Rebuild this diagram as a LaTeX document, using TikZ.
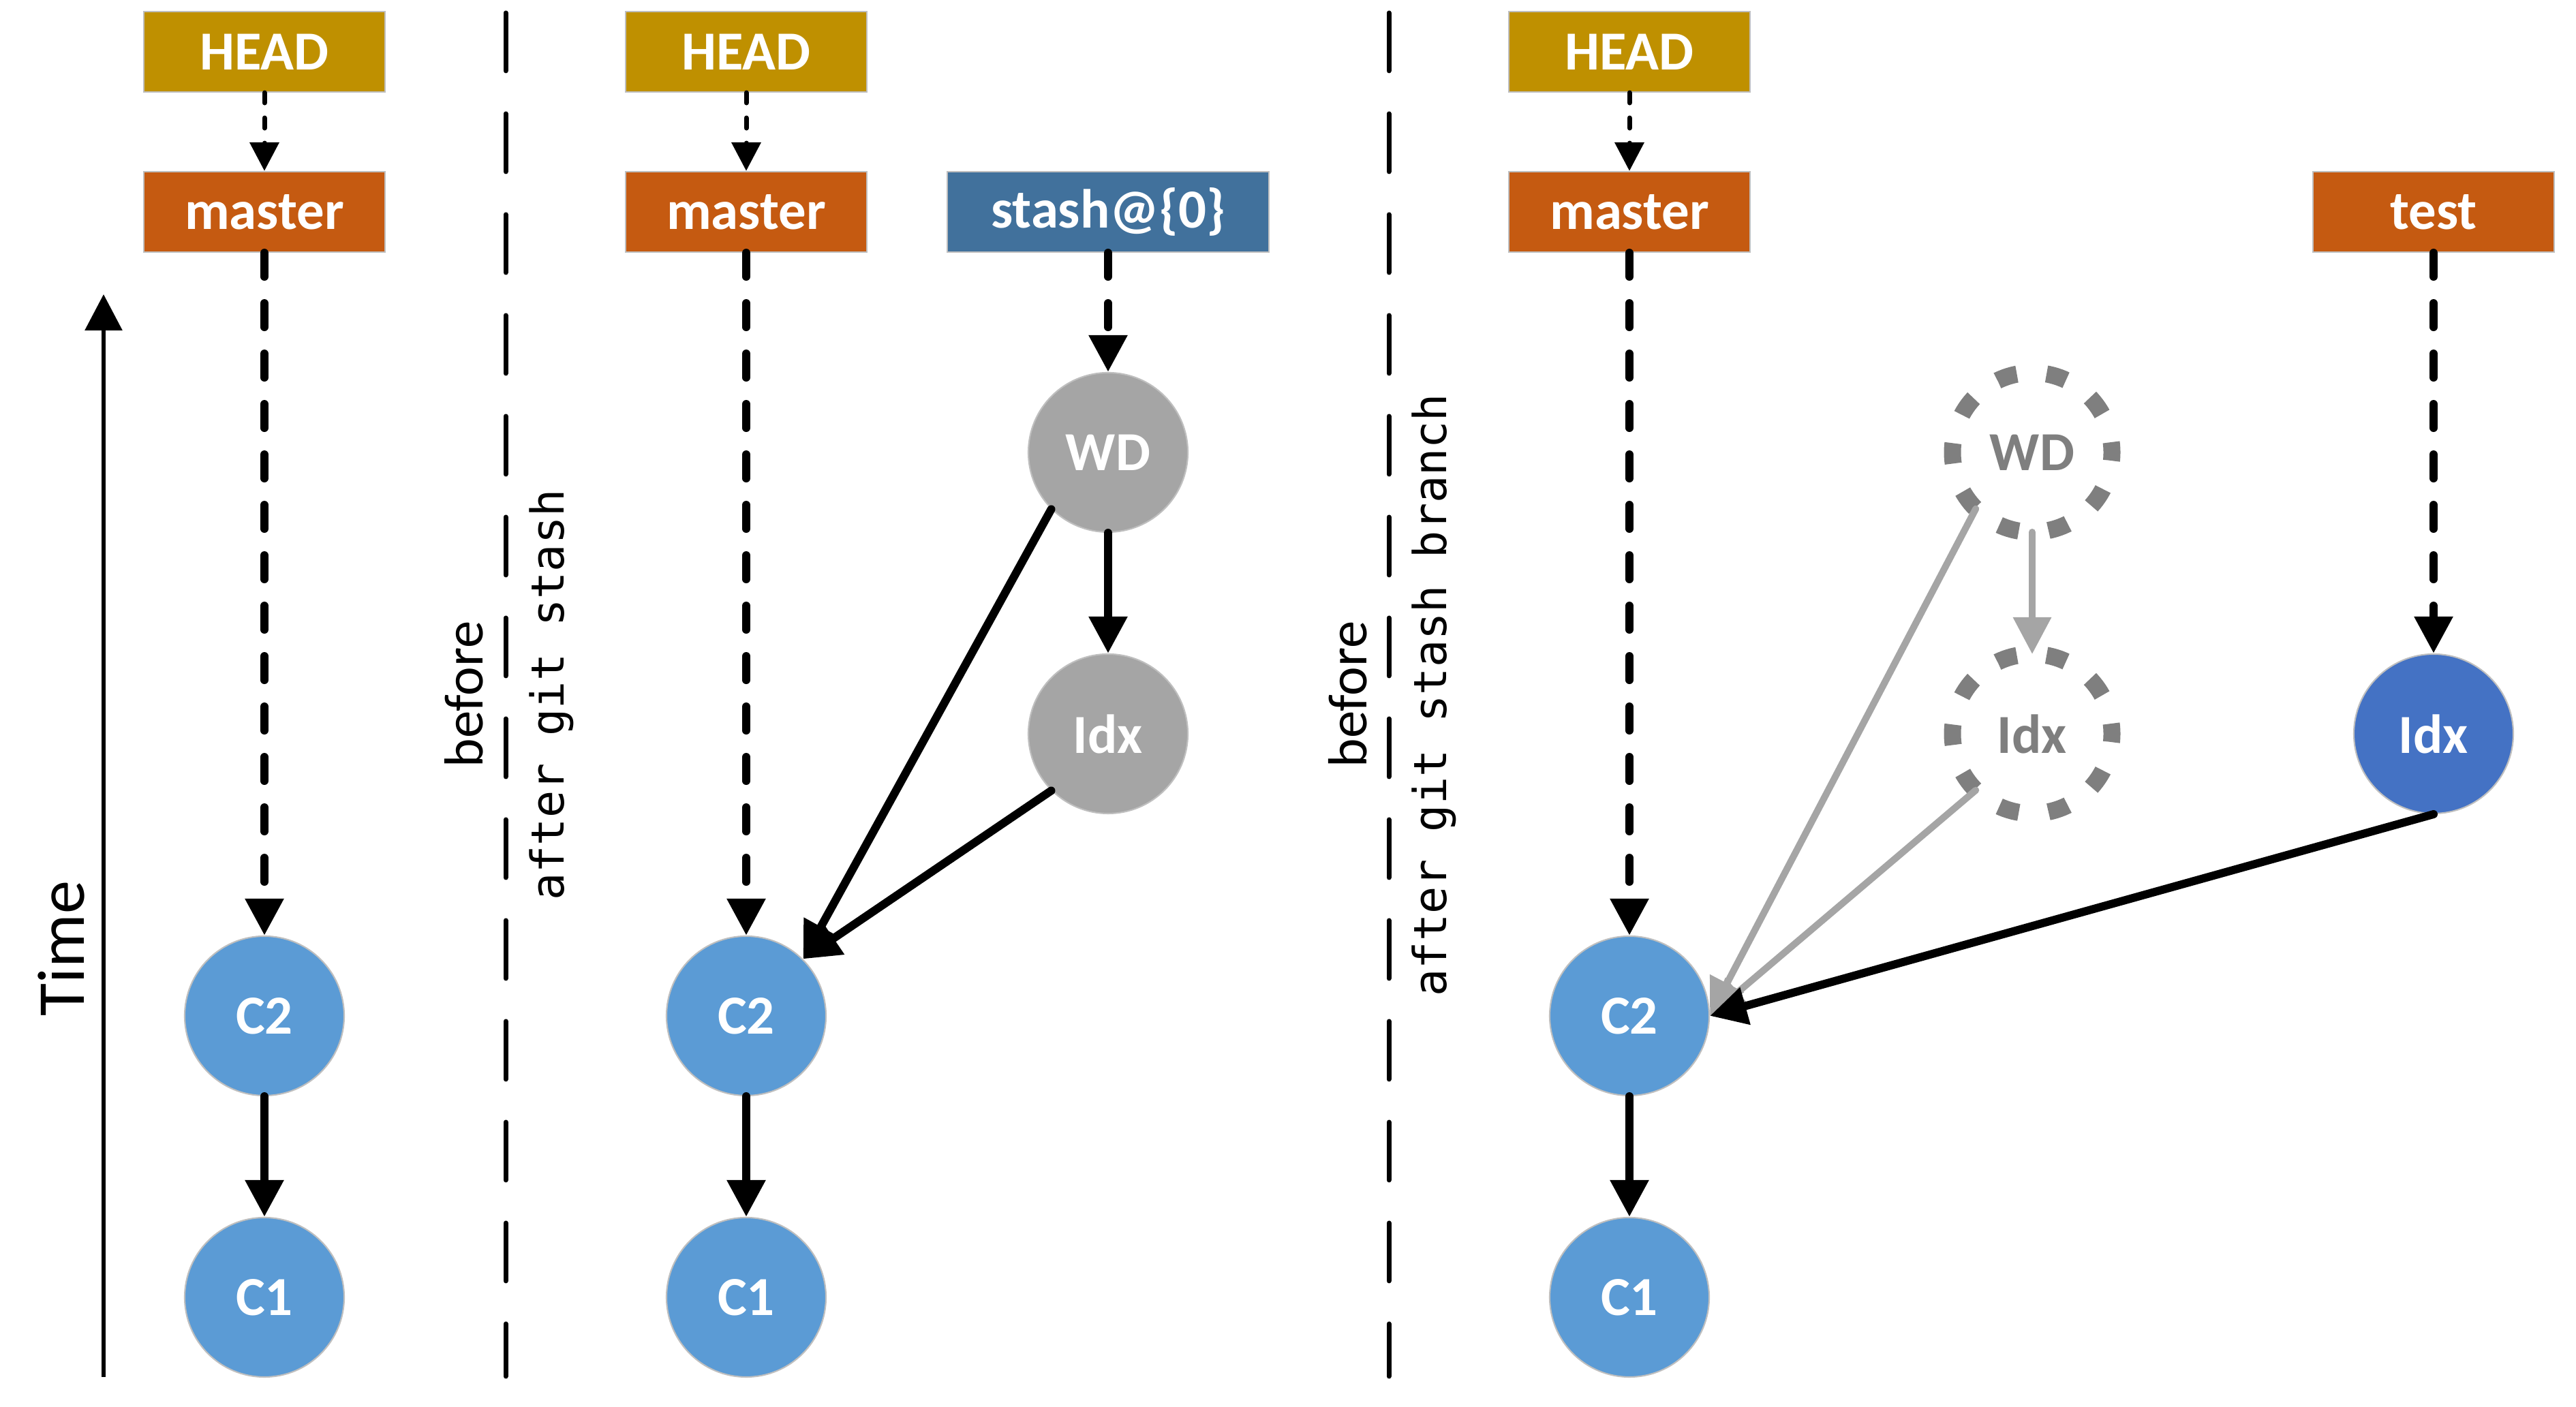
\documentclass[tikz,border=0pt]{standalone}
\usepackage{fontspec}
\setmainfont{Carlito}
\newfontfamily\gitfont{DejaVu Sans Mono}
\usetikzlibrary{arrows.meta}

\definecolor{headcol}{HTML}{BF9000}
\definecolor{branchcol}{HTML}{C55A11}
\definecolor{stashcol}{HTML}{41719C}
\definecolor{commitcol}{HTML}{5B9BD5}
\definecolor{treecol}{HTML}{A5A5A5}
\definecolor{idxcol}{HTML}{4472C4}
\definecolor{ghostcol}{HTML}{7F7F7F}

\tikzset{
  label font/.style={font=\fontsize{23}{27}\selectfont\bfseries},
  refbox/.style={rectangle, draw=black!25, line width=0.6pt, text=white, label font,
    minimum width=3.54cm, minimum height=1.18cm, inner sep=0pt},
  commit/.style={circle, draw=black!25, line width=0.6pt, fill=commitcol, text=white,
    label font, minimum size=2.34cm, inner sep=0pt},
  ghost/.style={circle, draw=ghostcol, line width=0.25cm, dash pattern=on 0.3cm off 0.438cm,
    dash phase=0.15cm, text=ghostcol, label font, minimum size=2.34cm, inner sep=0pt, outer sep=0pt},
  headptr/.style={line width=0.07cm, line cap=round, dash pattern=on 0.15cm off 0.22cm,
    -{Triangle[length=0.42cm, width=0.42cm]}},
  refptr/.style={line width=0.12cm, line cap=round, dash pattern=on 0.35cm off 0.39cm,
    -{Triangle[length=0.54cm, width=0.54cm]}},
  parentedge/.style={line width=0.12cm, line cap=round, -{Triangle[length=0.54cm, width=0.54cm]}},
  ghostedge/.style={parentedge, line width=0.1cm, draw=treecol, -{Triangle[length=0.54cm, width=0.54cm, fill=treecol]}},
  divider/.style={line width=0.07cm, line cap=round, dash pattern=on 0.85cm off 0.63cm},
  sidenote/.style={rotate=90, anchor=base, font=\fontsize{23}{27}\selectfont},
  cmdnote/.style={rotate=90, anchor=base, font=\gitfont\fontsize{19}{23}\selectfont}
}

\begin{document}
\begin{tikzpicture}
  \useasboundingbox (0,0) rectangle (37.8,20.65);

  % time axis
  \coordinate (tstart) at (1.52,0.44);
  \coordinate (tend) at (1.52,16.33);
  \draw[line width=0.06cm, -{Triangle[length=0.53cm, width=0.54cm]}] (tstart) -- (tend);
  \node[sidenote, font=\fontsize{28}{32}\selectfont] (timelabel) at (1.23,6.73) {Time};

  % before git stash
  \node[refbox, fill=headcol] (head1) at (3.88,19.89) {HEAD};
  \node[refbox, fill=branchcol] (master1) at (3.88,17.54) {master};
  \node[commit] (c2a) at (3.88,5.74) {C2};
  \node[commit] (c1a) at (3.88,1.61) {C1};

  \draw[headptr] (head1) -- (master1);
  \draw[refptr] (master1) -- (c2a);
  \draw[parentedge] (c2a) -- (c1a);

  \coordinate (div1top) at (7.42,20.46);
  \coordinate (div1bot) at (7.42,0.45);
  \draw[divider] (div1top) -- (div1bot);
  \node[sidenote] (before1) at (7.08,10.46) {before};
  \node[cmdnote] (after1) at (8.27,10.45) {after git stash};

  % after git stash
  \node[refbox, fill=headcol] (head2) at (10.95,19.89) {HEAD};
  \node[refbox, fill=branchcol] (master2) at (10.95,17.54) {master};
  \node[commit] (c2b) at (10.95,5.74) {C2};
  \node[commit] (c1b) at (10.95,1.61) {C1};
  \node[refbox, fill=stashcol, minimum width=4.72cm] (stash) at (16.26,17.54) {stash@\{0\}};
  \node[commit, fill=treecol] (wd) at (16.26,14.01) {WD};
  \node[commit, fill=treecol] (idx) at (16.26,9.88) {Idx};

  \draw[headptr] (head2) -- (master2);
  \draw[refptr] (master2) -- (c2b);
  \draw[parentedge] (c2b) -- (c1b);
  \draw[refptr] (stash) -- (wd);
  \draw[parentedge] (wd) -- (idx);
  \draw[parentedge] (wd.south west) -- (c2b.north east);
  \draw[parentedge] (idx.south west) -- (c2b.north east);

  \coordinate (div2top) at (20.38,20.46);
  \coordinate (div2bot) at (20.38,0.45);
  \draw[divider] (div2top) -- (div2bot);
  \node[sidenote] (before2) at (20.05,10.46) {before};
  \node[cmdnote] (after2) at (21.22,10.45) {after git stash branch};

  % after git stash branch
  \node[refbox, fill=headcol] (head3) at (23.91,19.89) {HEAD};
  \node[refbox, fill=branchcol] (master3) at (23.91,17.54) {master};
  \node[commit] (c2c) at (23.91,5.74) {C2};
  \node[commit] (c1c) at (23.91,1.61) {C1};
  \node[ghost] (wdold) at (29.82,14.01) {WD};
  \node[ghost] (idxold) at (29.82,9.88) {Idx};
  \node[refbox, fill=branchcol] (test) at (35.71,17.54) {test};
  \node[commit, fill=idxcol] (idxnew) at (35.71,9.88) {Idx};

  \draw[headptr] (head3) -- (master3);
  \draw[refptr] (master3) -- (c2c);
  \draw[parentedge] (c2c) -- (c1c);
  \draw[ghostedge] (wdold) -- (idxold);
  \draw[ghostedge] (wdold.south west) -- (c2c.east);
  \draw[ghostedge] (idxold.south west) -- (c2c.east);
  \draw[refptr] (test) -- (idxnew);
  \draw[parentedge] (idxnew.south) -- (c2c.east);
\end{tikzpicture}
\end{document}
